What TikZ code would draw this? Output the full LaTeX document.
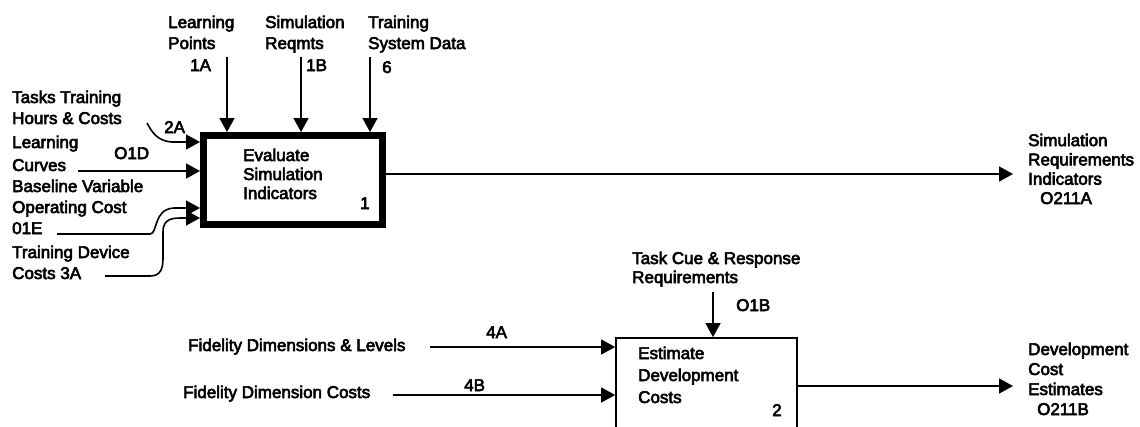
\documentclass[tikz,border=0pt]{standalone}
\usepackage{fontspec}
\setmainfont{Liberation Sans}[FakeBold=3.5]
\usetikzlibrary{arrows.meta}

% multi-line labels are placed by the baseline of their last line
\tikzset{
  lbl/.style={font=\fontsize{17}{21}\selectfont, align=left, inner sep=0pt, anchor=base west},
  tag/.style={font=\fontsize{17}{21}\selectfont, inner sep=0pt, anchor=base west},
  flow/.style={draw, line width=1.6pt, -{Triangle[length=14pt,width=15pt]}},
  actbox/.style={draw, rectangle, inner sep=0pt},
}

\begin{document}
\begin{tikzpicture}[x=1pt, y=-1pt]
\clip (0,0) rectangle (1140,426);
\fill[white] (0,0) rectangle (1140,426);

% ---- activity boxes ----
\node[actbox, line width=7pt, minimum width=179pt, minimum height=89pt] (box1) at (293,180) {};
\node[actbox, line width=1.8pt, minimum width=181pt, minimum height=140pt] (box2) at (706.5,408) {};

\node[lbl, font=\fontsize{17}{19}\selectfont] (t1) at (243,199) {Evaluate\\Simulation\\Indicators};
\node[tag] (n1) at (360,209) {1};
\node[lbl, font=\fontsize{17}{22}\selectfont] (t2) at (638,403) {Estimate\\Development\\Costs};
\node[tag] (n2) at (772,416) {2};

% ---- controls entering box 1 from above ----
\node[lbl] (lp) at (168,49) {Learning\\Points};
\node[tag] (l1a) at (190,71) {1A};
\node[lbl] (sr) at (265,49) {Simulation\\Reqmts};
\node[tag] (l1b) at (306,71) {1B};
\node[lbl] (tsd) at (368,49) {Training\\System Data};
\node[tag] (l6) at (382,73) {6};

\coordinate (c1a) at (227,57);
\coordinate (c1b) at (301,57);
\coordinate (c6)  at (370,57);
\draw[flow] (c1a) -- (c1a |- box1.north);
\draw[flow] (c1b) -- (c1b |- box1.north);
\draw[flow] (c6)  -- (c6 |- box1.north);

% ---- inputs entering box 1 from the left ----
\node[lbl] (tth) at (12,124) {Tasks Training\\Hours \& Costs};
\node[tag] (l2a) at (164,133) {2A};
\node[lbl, font=\fontsize{17}{23}\selectfont] (lc) at (12,171) {Learning\\Curves};
\node[tag] (lo1d) at (114,159) {O1D};
\node[lbl] (bvo) at (12,234) {Baseline Variable\\Operating Cost\\01E};
\node[lbl] (tdc) at (12,279) {Training Device\\Costs 3A};

\coordinate (s2a) at (147,123);
\coordinate (slc) at (78,171);
\coordinate (s1e) at (57,234);
\coordinate (s3a) at (105,276);

\draw[flow] (s2a) .. controls (152,132) and (157,141) .. (172,142) -- (box1.west |- 0,142);
\draw[flow] (slc) -- (box1.west |- slc);
\draw[flow] (s1e) -- (150,234) .. controls (158,234) and (153,209) .. (174,208) -- (box1.west |- 0,208);
\draw[flow] (s3a) -- (150,276) .. controls (161,276) and (163,268) .. (163,258)
  -- (163,232) .. controls (163,222) and (168,218) .. (180,218) -- (box1.west |- 0,218);

% ---- output of box 1 ----
\coordinate (oa) at (1013,174);
\draw[flow] (box1.east |- oa) -- (oa);
\node[lbl, font=\fontsize{17}{19.3}\selectfont] (sri) at (1028,204) {Simulation\\Requirements\\Indicators\\\hspace*{12pt}O211A};

% ---- control entering box 2 from above ----
\node[lbl, font=\fontsize{17}{19}\selectfont] (tcr) at (632,283) {Task Cue \& Response\\Requirements};
\node[tag] (lo1b) at (736,311) {O1B};
\coordinate (c1o) at (713,292);
\draw[flow] (c1o) -- (c1o |- box2.north);

% ---- inputs entering box 2 from the left ----
\node[lbl] (fdl) at (188,351) {Fidelity Dimensions \& Levels};
\node[tag] (l4a) at (486,338) {4A};
\node[lbl] (fdc) at (183,398) {Fidelity Dimension Costs};
\node[tag] (l4b) at (464,391) {4B};
\coordinate (s4a) at (430,347);
\coordinate (s4b) at (393,395);
\draw[flow] (s4a) -- (box2.west |- s4a);
\draw[flow] (s4b) -- (box2.west |- s4b);

% ---- output of box 2 ----
\coordinate (ob) at (1013,386);
\draw[flow] (box2.east |- ob) -- (ob);
\node[lbl, font=\fontsize{17}{20}\selectfont] (dce) at (1028,415) {Development\\Cost\\Estimates\\\hspace*{9pt}O211B};

\end{tikzpicture}
\end{document}
